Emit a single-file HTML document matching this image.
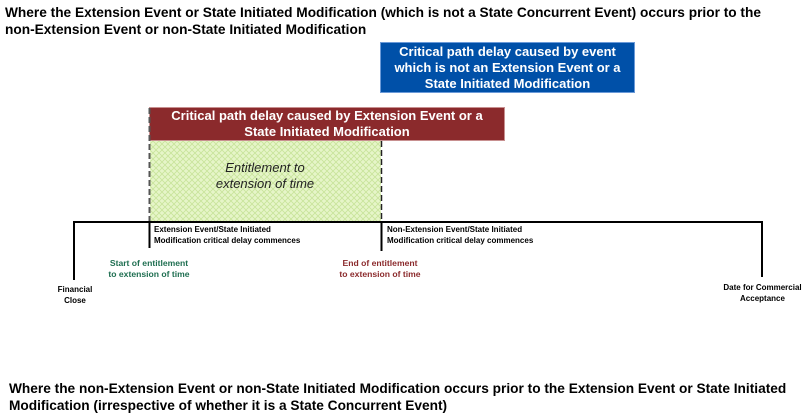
<!DOCTYPE html>
<html><head><style>
body{margin:0;width:807px;height:415px;background:#fff;position:relative;overflow:hidden;font-family:"Liberation Sans",Arial,sans-serif}
.a{position:absolute}
.t{font-weight:bold;font-size:13.7px;line-height:17px;color:#000}
.s{font-weight:bold;font-size:8px;line-height:11px}
</style></head><body>
<div class="a t" style="left:5px;top:4px;width:780px">Where the Extension Event or State Initiated Modification (which is not a State Concurrent Event) occurs prior to the non-Extension Event or non-State Initiated Modification</div>
<div class="a t" style="left:9px;top:380px;width:798px">Where the non-Extension Event or non-State Initiated Modification occurs prior to the Extension Event or State Initiated Modification (irrespective of whether it is a State Concurrent Event)</div>
<svg class="a" style="left:0;top:0" width="807" height="415">
<defs><pattern id="h" width="6" height="6" patternUnits="userSpaceOnUse"><rect width="6" height="6" fill="#e6f5c8"/><path d="M0 0L6 6M6 0L0 6" stroke="#c8e49a" stroke-width="0.8"/></pattern></defs>
<rect x="150" y="141" width="231" height="81" fill="url(#h)"/>
<rect x="380.5" y="42.5" width="254" height="50" fill="#0050a8" stroke="#6b9ad8"/>
<rect x="149.5" y="107.5" width="355" height="33" fill="#8b2a2c" stroke="#c89090"/>
<line x1="149.5" y1="108" x2="149.5" y2="222" stroke="#555" stroke-width="2" stroke-dasharray="6,3"/>
<line x1="381.5" y1="141" x2="381.5" y2="222" stroke="#222" stroke-width="1.5" stroke-dasharray="6,3"/>
<polyline points="74,280 74,222 762,222 762,277" fill="none" stroke="#000" stroke-width="2"/>
<line x1="149.5" y1="222" x2="149.5" y2="248" stroke="#000" stroke-width="2"/>
<line x1="381.5" y1="222" x2="381.5" y2="251" stroke="#000" stroke-width="2"/>
</svg>
<div class="a" style="left:380px;top:44px;width:255px;text-align:center;color:#fff;font-weight:bold;font-size:13px;line-height:16px">Critical path delay caused by event which is not an Extension Event or a State Initiated Modification</div>
<div class="a" style="left:160px;top:108px;width:334px;text-align:center;color:#fff;font-weight:bold;font-size:13px;line-height:16px">Critical path delay caused by Extension Event or a State Initiated Modification</div>
<div class="a" style="left:150px;top:160px;width:230px;text-align:center;font-style:italic;font-size:13px;line-height:16px;color:#222">Entitlement to<br>extension of time</div>
<div class="a s" style="left:154px;top:224px">Extension Event/State Initiated<br>Modification critical delay commences</div>
<div class="a s" style="left:387px;top:224px">Non-Extension Event/State Initiated<br>Modification critical delay commences</div>
<div class="a s" style="left:89px;top:258px;width:120px;text-align:center;color:#1e6e50;font-size:8.6px">Start of entitlement<br>to extension of time</div>
<div class="a s" style="left:320px;top:258px;width:120px;text-align:center;color:#8b2a2c;font-size:8.6px">End of entitlement<br>to extension of time</div>
<div class="a s" style="left:40px;top:284px;width:70px;text-align:center">Financial<br>Close</div>
<div class="a s" style="left:705px;top:282px;width:115px;text-align:center">Date for Commercial<br>Acceptance</div>
</body></html>
